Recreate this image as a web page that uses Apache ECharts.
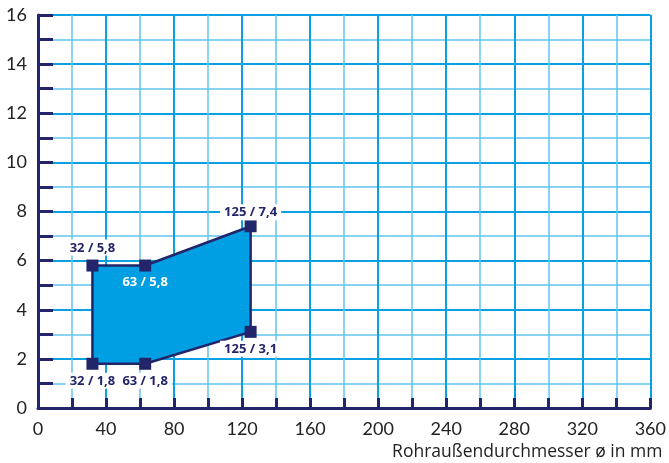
<!DOCTYPE html>
<html><head><meta charset="utf-8">
<script src="https://cdn.jsdelivr.net/npm/echarts@6/dist/echarts.min.js"></script>
<style>html,body{margin:0;padding:0;background:#fff}#c{width:669px;height:463px}</style>
</head><body><div id="c"></div>
<script>
const pipeDiameters = [32, 63, 125, 125, 63, 32];
const flowValues = [5.8, 5.8, 7.4, 3.1, 1.8, 1.8];
const pointLabels = ['32 / 5,8', '63 / 5,8', '125 / 7,4', '125 / 3,1', '63 / 1,8', '32 / 1,8'];
const xTickLabels = [0, 40, 80, 120, 160, 200, 240, 280, 320, 360];
const yTickLabels = [0, 2, 4, 6, 8, 10, 12, 14, 16];
const xAxisTitle = 'Rohraußendurchmesser ø in mm';

const NAVY = '#23256a';
const FILL = '#009fe3';
const points = pipeDiameters.map((x, i) => [x, flowValues[i]]);

const labelStyles = [
  {position: 'top', distance: 4, backgroundColor: '#fff', color: NAVY},
  {position: 'bottom', distance: 2, color: '#fff'},
  {position: 'top', distance: 0, backgroundColor: '#fff', color: NAVY},
  {position: 'bottom', distance: 3, backgroundColor: '#fff', color: NAVY},
  {position: 'bottom', distance: 3, backgroundColor: '#fff', color: NAVY},
  {position: 'bottom', distance: 3, backgroundColor: '#fff', color: NAVY}
];

const chart = echarts.init(document.getElementById('c'), null, {renderer: 'canvas'});
chart.setOption({
  animation: false,
  grid: {left: 38, right: 16, top: 15, bottom: 55, containLabel: false},
  xAxis: {
    type: 'value', min: xTickLabels[0], max: xTickLabels[xTickLabels.length - 1], interval: 40,
    name: xAxisTitle, nameLocation: 'end', nameGap: 0,
    nameTextStyle: {fontFamily: 'Open Sans', fontSize: 17.5, color: '#222', align: 'right', verticalAlign: 'top', padding: [35, -12, 0, 0]},
    axisLine: {show: true, onZero: false, lineStyle: {color: NAVY, width: 3}},
    axisTick: {show: true, inside: true, length: 10, lineStyle: {color: NAVY, width: 3}},
    minorTick: {show: true, splitNumber: 2, length: 10, lineStyle: {color: NAVY, width: 3}},
    axisLabel: {fontFamily: 'Lato', fontSize: 18, color: '#222', margin: 12},
    splitLine: {show: true, lineStyle: {color: '#0aa0e2', width: 2}},
    minorSplitLine: {show: true, lineStyle: {color: '#62c5ef', width: 1.5}}
  },
  yAxis: {
    type: 'value', min: yTickLabels[0], max: yTickLabels[yTickLabels.length - 1], interval: 2,
    axisLine: {show: true, onZero: false, lineStyle: {color: NAVY, width: 3}},
    axisTick: {show: true, inside: true, length: 15, lineStyle: {color: NAVY, width: 3}},
    minorTick: {show: true, splitNumber: 2, length: 15, lineStyle: {color: NAVY, width: 3}},
    axisLabel: {fontFamily: 'Lato', fontSize: 18, color: '#222', margin: 11},
    splitLine: {show: true, lineStyle: {color: '#0aa0e2', width: 2}},
    minorSplitLine: {show: true, lineStyle: {color: '#62c5ef', width: 1.5}}
  },
  series: [
    {
      type: 'custom',
      data: [0],
      z: 3,
      renderItem: function (params, api) {
        const pts = points.map(p => api.coord(p));
        return {
          type: 'polygon',
          shape: {points: pts},
          style: {fill: FILL, stroke: NAVY, lineWidth: 2.5, lineJoin: 'round'}
        };
      }
    },
    {
      type: 'scatter',
      z: 5,
      symbol: 'rect',
      symbolSize: 12,
      itemStyle: {color: NAVY, opacity: 1},
      data: points.map((p, i) => ({
        value: p,
        label: Object.assign({
          show: true, formatter: pointLabels[i],
          fontFamily: 'Open Sans', fontWeight: 'bold', fontSize: 13,
          padding: [2, 4, 1, 4]
        }, labelStyles[i])
      }))
    }
  ]
});
</script></body></html>
